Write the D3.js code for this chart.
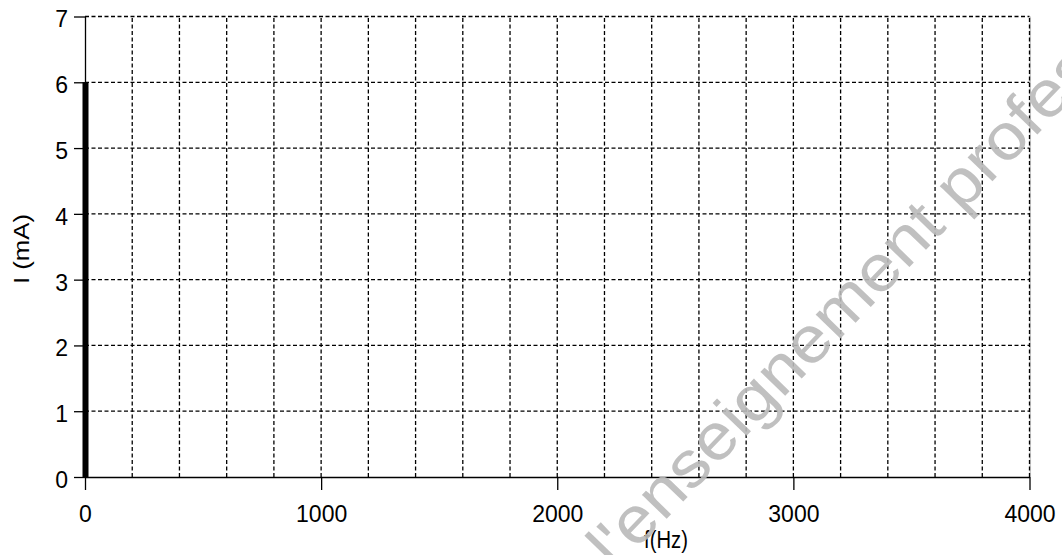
<!DOCTYPE html>
<html>
<head>
<meta charset="utf-8">
<script src="https://cdn.jsdelivr.net/npm/d3@7/dist/d3.min.js"></script>
<style>
  body { margin: 0; background: #fff; }
  svg text { font-family: 'Liberation Sans', Arial, sans-serif; }
</style>
</head>
<body>
<svg id="chart" width="1062" height="555"></svg>
<script>
// data
const freqs = [0]
const currents = [6]
const xTicks = [0, 1000, 2000, 3000, 4000]
const yTicks = [0, 1, 2, 3, 4, 5, 6, 7]
const xGrid = d3.range(200, 4001, 200)
const yGrid = [1, 2, 3, 4, 5, 6, 7]
const xTitle = 'f(Hz)'
const yTitle = 'I (mA)'
const watermark = "l'enseignement profes"

const svg = d3.select('#chart')

let x = d3.scaleLinear().domain([0, 4000]).range([85, 1029.5])
let y = d3.scaleLinear().domain([0, 7]).range([477, 16.5])

// right border, light grey under the dashed line
svg.append('line')
  .attr('x1', x(4000) + 0.8).attr('x2', x(4000) + 0.8)
  .attr('y1', y(7)).attr('y2', y(0))
  .attr('stroke', '#c8c8c8')
  .attr('stroke-width', 1.5)

// dashed grid
let grid = svg.append('g').attr('class', 'grid')
  .attr('stroke', '#000')
  .attr('stroke-width', 1.3)
  .attr('stroke-dasharray', '4,2.5')

grid.selectAll('.vgrid')
  .data(xGrid)
  .enter().append('line')
  .attr('class', 'vgrid')
  .attr('x1', d => x(d)).attr('x2', d => x(d))
  .attr('y1', y(0)).attr('y2', y(7))

grid.selectAll('.hgrid')
  .data(yGrid)
  .enter().append('line')
  .attr('class', 'hgrid')
  .attr('x1', x(0)).attr('x2', x(4000))
  .attr('y1', d => y(d)).attr('y2', d => y(d))

// axes
let xAxis = svg.append('g')
  .attr('transform', `translate(0, ${y(0)})`)
  .call(d3.axisBottom(x).tickValues(xTicks).tickFormat(d3.format('d'))
    .tickSize(13).tickSizeOuter(0).tickPadding(16))
xAxis.select('.domain').attr('stroke-width', 1.6)
xAxis.selectAll('.tick line').attr('stroke-width', 1.3)
xAxis.selectAll('text').attr('font-size', 23).attr('fill', '#000')

let yAxis = svg.append('g')
  .attr('transform', `translate(${x(0)}, 0)`)
  .call(d3.axisLeft(y).tickValues(yTicks).tickFormat(d3.format('d'))
    .tickSize(11).tickSizeOuter(0).tickPadding(6))
yAxis.select('.domain').attr('stroke-width', 1.3)
yAxis.selectAll('.tick line').attr('stroke-width', 1.3)
yAxis.selectAll('text').attr('font-size', 23).attr('fill', '#000').attr('dy', '0.45em')

// bar
svg.selectAll('.bar')
  .data(freqs.map((f, i) => ({ f: f, i: currents[i] })))
  .enter().append('rect')
  .attr('class', 'bar')
  .attr('x', d => x(d.f) - 2.5)
  .attr('width', 6)
  .attr('y', d => y(d.i))
  .attr('height', d => y(0) - y(d.i))
  .attr('fill', '#000')

// titles
svg.append('text')
  .attr('text-anchor', 'middle')
  .attr('font-size', 23)
  .attr('transform', 'translate(666, 548) scale(0.88, 1.08)')
  .text(xTitle)

svg.append('text')
  .attr('transform', 'translate(29, 249) rotate(-90) scale(1.12, 1)')
  .attr('text-anchor', 'middle')
  .attr('font-size', 23)
  .text(yTitle)

// watermark
svg.append('text')
  .attr('transform', 'translate(615, 572) rotate(-46) scale(1.1, 1)')
  .attr('font-family', 'DejaVu Sans')
  .attr('font-size', 65)
  .attr('fill', '#b9b9b9')
  .attr('fill-opacity', 0.9)
  .text(watermark)
</script>
</body>
</html>
